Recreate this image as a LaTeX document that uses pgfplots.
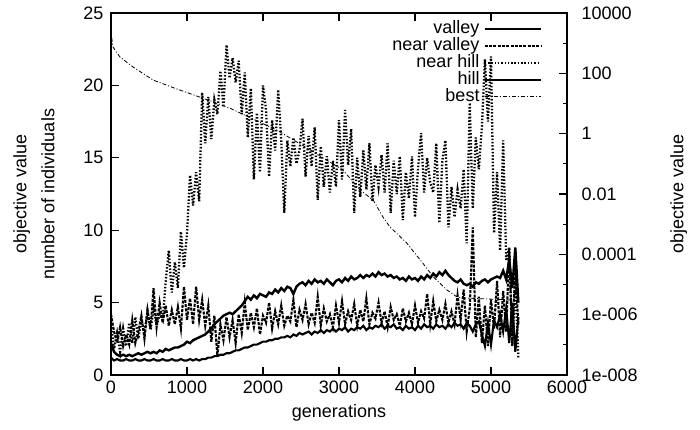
\documentclass[border=0pt]{standalone}
\usepackage{fontspec}
\setmainfont{Liberation Sans}
\usepackage{pgfplots}
\usepackage{pgfplotstable}
\pgfplotsset{compat=1.18}
\usetikzlibrary{calc}

\pgfplotstableread{
gen valley nearvalley nearhill hill
0 2.2 4.2 3.5 1.2
40 1.6 3.0 1.8 1.0
80 1.4 2.2 2.9 1.1
120 1.3 3.3 1.6 1.0
160 1.4 2.0 3.2 1.0
200 1.3 2.8 2.0 1.1
240 1.4 2.1 3.6 1.0
280 1.3 3.8 2.2 1.0
320 1.4 2.2 4.0 1.1
360 1.5 3.0 2.5 1.0
400 1.4 4.1 3.8 1.0
440 1.5 2.5 2.9 1.1
480 1.6 4.5 4.4 1.0
520 1.5 3.2 3.1 1.0
560 1.6 6.0 4.6 1.1
600 1.5 3.3 3.4 1.0
640 1.7 5.0 4.2 1.0
680 1.6 3.6 3.8 1.1
720 1.8 4.8 6.5 1.0
760 1.7 3.4 8.6 1.0
800 1.8 4.5 5.7 1.1
840 1.9 3.5 7.8 1.0
880 1.9 4.7 6.0 1.0
920 2.0 3.2 9.9 1.1
960 2.1 6.1 7.4 1.0
1000 2.3 3.8 9.8 1.0
1040 2.2 5.3 13.8 1.1
1080 2.4 3.5 11.7 1.0
1120 2.5 6.1 14.0 1.1
1160 2.6 3.8 12.0 1.0
1200 2.7 5.2 19.5 1.1
1240 2.8 3.4 16.0 1.1
1280 3.0 4.8 19.2 1.2
1320 3.2 2.3 16.3 1.2
1360 3.5 4.1 19.0 1.3
1400 3.7 1.3 18.0 1.3
1440 3.9 3.5 21.0 1.4
1480 4.1 2.4 18.5 1.4
1520 4.2 4.0 22.8 1.5
1560 4.3 2.6 20.5 1.5
1600 4.2 3.8 21.9 1.6
1640 4.4 2.2 20.2 1.7
1680 4.6 4.2 21.7 1.7
1720 4.8 2.9 18.0 1.8
1760 5.1 5.0 20.9 1.9
1800 5.4 3.1 16.4 1.9
1840 5.2 4.3 19.8 2.0
1880 5.5 3.3 13.5 2.1
1920 5.3 4.6 18.1 2.1
1960 5.6 2.8 14.0 2.2
2000 5.5 4.1 20.0 2.3
2040 5.4 3.6 18.3 2.3
2080 5.7 5.0 13.7 2.4
2120 5.6 3.2 17.6 2.4
2160 5.9 4.4 15.5 2.5
2200 5.7 3.5 19.7 2.5
2240 6.0 4.8 16.2 2.6
2280 5.8 3.4 11.2 2.6
2320 6.1 4.1 16.2 2.7
2360 6.0 3.7 14.4 2.6
2400 5.6 5.2 16.4 2.8
2440 6.1 3.3 14.6 2.7
2480 6.3 4.5 15.5 2.9
2520 6.4 3.8 17.7 2.8
2560 6.2 4.9 13.7 2.9
2600 6.5 3.5 16.5 3.0
2640 6.3 4.3 14.4 2.8
2680 6.6 3.6 17.1 3.0
2720 6.4 5.4 12.1 2.9
2760 6.5 3.4 15.8 3.1
2800 6.3 4.6 13.0 2.9
2840 6.6 3.7 15.1 3.1
2880 6.4 4.2 12.6 3.0
2920 6.2 3.3 14.8 3.2
2960 6.5 4.8 13.0 3.0
3000 6.6 3.6 17.6 3.2
3040 6.4 5.1 13.5 3.1
3080 6.7 3.5 18.3 3.3
3120 6.5 4.4 14.5 3.0
3160 6.8 3.8 17.0 3.2
3200 6.6 4.9 11.2 3.1
3240 6.7 3.4 15.0 3.3
3280 6.9 4.5 12.3 3.2
3320 6.7 3.7 15.5 3.4
3360 6.9 5.3 12.8 3.1
3400 6.8 3.5 16.0 3.3
3440 7.0 4.3 12.0 3.2
3480 6.8 3.9 14.5 3.4
3520 7.1 5.0 13.0 3.3
3560 6.9 3.6 15.2 3.5
3600 7.0 4.4 12.6 3.2
3640 6.8 3.3 16.0 3.4
3680 6.9 4.7 11.2 3.3
3720 6.7 3.8 14.8 3.5
3760 6.8 4.2 12.5 3.2
3800 6.6 3.4 15.1 3.3
3840 6.7 4.6 10.7 3.1
3880 6.5 3.7 14.0 3.4
3920 6.8 4.3 12.2 3.2
3960 6.6 3.5 15.1 3.3
4000 6.7 4.8 10.9 3.1
4040 6.5 3.6 14.3 3.4
4080 6.8 4.4 16.7 3.2
4120 6.6 3.9 12.6 3.5
4160 6.9 5.6 15.0 3.3
4200 6.7 3.5 13.3 3.4
4240 7.0 5.1 12.6 3.2
4280 6.8 3.7 16.0 3.5
4320 7.1 4.5 10.5 3.3
4360 6.9 3.8 14.8 3.4
4400 7.2 4.9 16.2 3.2
4440 6.9 3.6 10.2 3.5
4480 6.7 4.4 13.0 3.3
4520 6.5 3.5 10.9 3.6
4560 6.4 5.5 12.8 3.4
4600 6.6 3.8 11.5 3.5
4640 6.3 5.9 14.2 3.2
4680 6.2 3.0 9.1 3.6
4720 6.3 4.6 18.8 3.4
4760 6.1 10.2 11.5 3.0
4800 6.4 2.6 16.4 3.5
4840 6.3 5.4 14.2 3.7
4880 6.5 2.2 17.1 2.8
4920 6.6 4.8 21.8 2.0
4960 6.4 2.0 17.5 3.6
5000 6.6 5.2 22.0 2.1
5040 6.7 3.2 9.8 3.8
5080 6.8 6.5 14.0 3.3
5120 6.7 2.6 8.6 4.2
5160 7.2 5.8 16.2 3.0
5200 6.6 3.0 7.9 4.6
5240 8.0 8.8 8.8 2.2
5280 6.0 2.2 2.0 5.0
5320 8.8 7.5 6.5 1.6
5360 5.0 3.5 1.2 4.0
}\gadata

\pgfplotstableread{
gen best
0 3000
10 1500
26 741
118 347
290 162
553 60
840 32
1210 15
1565 7.0
2185 1.3
2620 0.29
2880 0.115
3050 0.063
3275 0.0136
3450 0.0063
3580 0.0017
3670 8.1e-4
3890 2.4e-4
4100 5.2e-5
4240 1.8e-5
4420 6.6e-6
4550 3.9e-6
4620 3.6e-6
5340 3.0e-6
}\bestdata

\begin{document}
\begin{tikzpicture}[font=\fontsize{18}{21}\selectfont]
\pgfplotsset{
  base/.style={
    scale only axis, width=456pt, height=362pt,
    xmin=0, xmax=6000,
    axis line style={line width=1.6pt},
    every tick/.style={line width=1.1pt, black},
    major tick length=8pt, minor tick length=4pt,
    tick align=inside,
    /pgf/number format/assume math mode=true,
    /pgf/number format/1000 sep={},
    tick label style={font=\fontsize{18}{21}\selectfont},
  },
  beststy/.style={black, line width=0.8pt, dash pattern=on 4pt off 2pt on 1pt off 2pt},
}
\begin{axis}[base, name=logax,
  ymode=log, ymin=1e-8, ymax=1e4,
  hide x axis,
  ytick pos=right, yticklabel pos=right,
  ytick={1e-8,1e-6,1e-4,1e-2,1,100,1e4},
  yticklabels={1e-008,1e-006,0.0001,0.01,1,100,10000},
  minor ytick={1e-7,1e-5,1e-3,0.1,10,1000},
  yticklabel style={anchor=west, xshift=11pt},
  ylabel={objective value},
  ylabel style={at={(axis description cs:1.245,0.5)}, anchor=center},
]
\addplot[beststy] table[x=gen, y=best] {\bestdata};
\end{axis}
\begin{axis}[base, name=main,
  ymin=0, ymax=25,
  xtick={0,1000,...,6000}, ytick={0,5,...,25},
  ytick pos=left,
  xticklabel style={yshift=-2pt},
  yticklabel style={xshift=-4pt},
  xlabel={generations},
  xlabel style={at={(axis description cs:0.5,-0.105)}, anchor=center},
  ylabel={objective value\\number of individuals},
  ylabel style={align=center, font=\fontsize{18}{28}\selectfont, at={(axis description cs:-0.169,0.5)}, anchor=center},
  legend plot pos=right,
  legend cell align=right,
  legend image code/.code={\draw[#1] (0pt,0pt) -- (56pt,0pt);},
  legend style={at={(rel axis cs:0.952,0.986)}, anchor=north east, draw=none, fill=none,
    font=\fontsize{18}{21}\selectfont, row sep=0pt, column sep=3pt,
    nodes={inner sep=1pt, text height=12pt, text depth=3pt}},
]
\addplot[black, line width=2.4pt] table[x=gen, y=valley] {\gadata};
\addlegendentry{valley}
\addplot[black, line width=2.1pt, dash pattern=on 3pt off 1.3pt] table[x=gen, y=nearvalley] {\gadata};
\addlegendentry{near valley}
\addplot[black, line width=2.3pt, dash pattern=on 1.5pt off 1.8pt] table[x=gen, y=nearhill] {\gadata};
\addlegendentry{near hill}
\addplot[black, line width=2.1pt] table[x=gen, y=hill] {\gadata};
\addlegendentry{hill}
\addlegendimage{beststy}
\addlegendentry{best}
\end{axis}
\path ($(main.south west)+(-111pt,-55pt)$) rectangle ($(main.north east)+(133pt,13pt)$);
\end{tikzpicture}
\end{document}
